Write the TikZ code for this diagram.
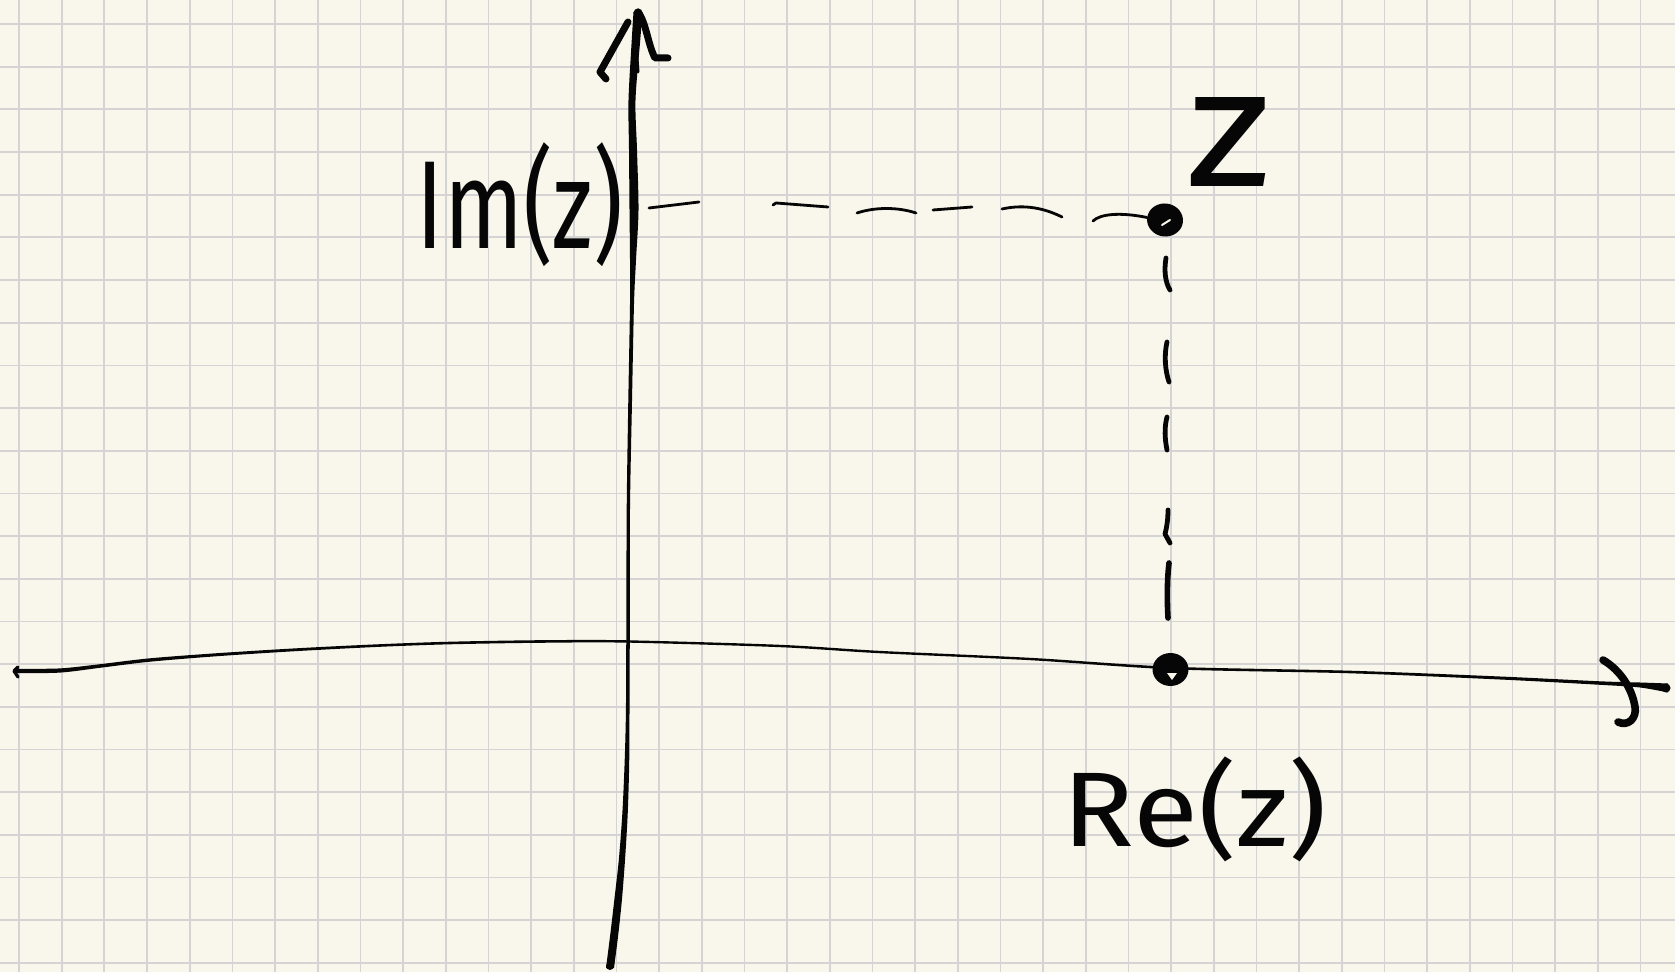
\documentclass[tikz,border=0pt]{standalone}
\usepackage{graphicx}
\usepackage{fontspec}
\setmainfont{Fira Sans}
\usetikzlibrary{shapes.geometric}
\definecolor{paper}{RGB}{249,247,235}
\definecolor{gridc}{RGB}{212,212,212}
\definecolor{ink}{RGB}{6,6,6}
\begin{document}
\begin{tikzpicture}[x=0.5pt,y=-0.5pt,
  gridline/.style={gridc,line width=0.85pt},
  pen/.style={ink,line cap=round,line join=round},
  thinpen/.style={pen,line width=1.4pt},
  dashpen/.style={pen,line width=2.4pt},
  barbpen/.style={pen,line width=3.5pt},
  pointdot/.style={ellipse,fill=ink,inner sep=0pt,minimum width=18pt,minimum height=16.5pt},
  glint/.style={paper,line width=1pt,line cap=round},
  label/.style={ink,inner sep=0pt}]
\useasboundingbox (0,0) rectangle (1675,972);
\fill[paper] (0,0) rectangle (1675,972);
\foreach \i in {0,...,38} \draw[gridline] ({19+42.67*\i},0) -- ++(0,972);
\foreach \j in {0,...,22} \draw[gridline] (0,{24+42.67*\j}) -- ++(1675,0);

% horizontal axis (tapered stroke)
\fill[ink] plot[smooth] coordinates {(15,668.8) (60,668.4) (100,664.2) (150,658.3) (220,653) (300,648.1) (380,644.2) (450,641.7) (540,640.2) (629,640.3) (780,644.8) (879,650.8) (1030,657.8) (1171,666.7) (1350,670.7) (1500,676.5) (1600,681.3) (1640,682.5) (1668,683.5)}
  -- plot[smooth] coordinates {(1668,692.5) (1640,687.5) (1600,684.8) (1500,679.5) (1350,673.3) (1171,669.3) (1030,660.2) (879,653.2) (780,647.2) (629,642.7) (540,642.8) (450,644.3) (380,646.8) (300,650.9) (220,656) (150,661.7) (100,667.8) (60,672.6) (15,673.2)} -- cycle;
\fill[ink] (1666,688) circle (4.5);
\draw[pen,line width=1.6pt] (18,667) -- (14,671) -- (18,677);
% right arrow hook
\draw[barbpen,line width=3.8pt] (1603,660) .. controls (1620,670) and (1632,688) .. (1635,707) .. controls (1637,718) and (1628,727) .. (1618,722);

% vertical axis (tapered stroke)
\fill[ink] plot[smooth] coordinates {(633.5,12) (631.75,40) (628.5,100) (629,150) (629.5,210) (630,260) (630,304) (628.2,406) (626.7,508) (626.3,628) (625.9,712) (624.6,763) (622.3,814) (618.8,860) (614.3,900) (610.2,935) (606,968)}
  -- plot[smooth] coordinates {(614,968) (618.2,935) (621.9,900) (625,860) (627.7,814) (629.2,763) (629.5,712) (629.8,628) (630,508) (631.9,406) (634,304) (636,260) (638.5,210) (637,150) (635.5,100) (640.25,40) (642.5,12)} -- cycle;
\fill[ink] (638,13) circle (4.5);
\fill[ink] (610,966) circle (4);
% top arrow
\draw[barbpen] (628,22) -- (600,72) -- (606,79);
\draw[barbpen] (638,12) .. controls (646,22) and (648,45) .. (655,58) -- (668,58);
\draw[pen,line width=1.5pt] (635,30) -- (638,72);

% point z and its projections
\node[pointdot,rotate=-8] (zdot) at (1165,220) {};
\draw[glint] (1162,225) -- (1170,220);
\node[pointdot] (redot) at (1170.5,669.5) {};
\fill[paper] (1167,673) -- (1177,673) -- (1172,680) -- cycle;

% dashed horizontal (to imaginary axis)
\draw[thinpen] (649,208) -- (699,202);
\draw[thinpen] (773,205) -- (776,203) -- (828,207);
\draw[thinpen] (857,213) .. controls (875,207) and (898,207) .. (916,213);
\draw[thinpen] (933,210) -- (972,207);
\draw[thinpen] (1002,209) .. controls (1020,205) and (1040,206) .. (1062,217);
\draw[thinpen] (1093,221) .. controls (1100,214) and (1120,212) .. (zdot.west);

% dashed vertical (to real axis)
\draw[dashpen] (1166,258) .. controls (1164,270) and (1165,282) .. (1170,290);
\draw[dashpen] (1167,342) .. controls (1164,355) and (1165,370) .. (1169,382);
\draw[dashpen] (1167,417) .. controls (1164,428) and (1165,440) .. (1167,450);
\draw[dashpen] (1168,510) .. controls (1168,522) and (1166,530) .. (1165,534) -- (1170,543);
\draw[dashpen,line width=2.8pt] (1169,563) .. controls (1167,580) and (1167,600) .. (1168,618);

% labels
\node[label] (imlab) at (520,205) {\resizebox*{103pt}{62pt}{Im(z)}};
\node[label] (zlab) at (1229.5,142.5) {\resizebox*{42.5pt}{44.5pt}{z}};
\node[label] (relab) at (1195,809.5) {\resizebox*{132pt}{52.5pt}{Re(z)}};
\end{tikzpicture}
\end{document}
